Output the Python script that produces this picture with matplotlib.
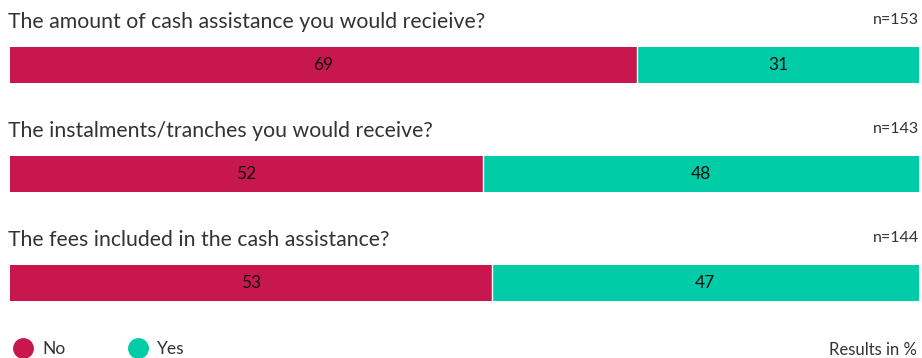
import matplotlib.pyplot as plt
from matplotlib.lines import Line2D

questions = [
    "The amount of cash assistance you would recieive?",
    "The instalments/tranches you would receive?",
    "The fees included in the cash assistance?",
]
n_labels = ["n=153", "n=143", "n=144"]
no_vals = [69, 52, 53]
yes_vals = [31, 48, 47]

NO_COLOR = "#C8174F"
YES_COLOR = "#00CCA8"
TEXT = "#333333"

plt.rcParams["font.family"] = ["Lato", "DejaVu Sans"]

W, H = 922, 358
fig = plt.figure(figsize=(W / 100, H / 100), dpi=100)
# axes spans the whole height; x from px 10 to 919
ax = fig.add_axes([10 / W, 0, 909 / W, 1])
px = 109.0  # pixels per category step
ax.set_xlim(0, 100)
ax.set_ylim((H - 65) / px, -65 / px)
ax.axis("off")

pos = list(range(len(questions)))
ax.barh(pos, no_vals, height=36 / px, color=NO_COLOR, label="No")
ax.barh(pos, yes_vals, left=no_vals, height=36 / px, color=YES_COLOR,
        label="Yes", linewidth=0)

for i, q in enumerate(questions):
    ax.text(-0.2, i - 43 / px, q, fontsize=15.3, color=TEXT, va="center",
            ha="left")
    ax.text(100, i - 45 / px, n_labels[i], fontsize=11.5, color=TEXT,
            va="center", ha="right")
    ax.text(no_vals[i] / 2, i, str(no_vals[i]), fontsize=12.5, color="#111111",
            va="center", ha="center")
    ax.text(no_vals[i] + yes_vals[i] / 2, i, str(yes_vals[i]), fontsize=12.5,
            color="#111111", va="center", ha="center")
    # thin white divider between segments
    ax.plot([no_vals[i], no_vals[i]], [i - 18 / px, i + 18 / px],
            color="white", lw=1)

handles = [
    Line2D([], [], marker="o", ls="", markersize=14, color=NO_COLOR),
    Line2D([], [], marker="o", ls="", markersize=14, color=YES_COLOR),
]
fig.legend(handles, ["No", "Yes"], loc="center left",
           bbox_to_anchor=(-3 / W, 1 - 349 / H), ncol=2, frameon=False,
           fontsize=12.5, handletextpad=0.5, columnspacing=3.6,
           labelcolor=TEXT, handlelength=1.2)
fig.text(917 / W, 1 - 350 / H, "Results in %", fontsize=12, color=TEXT,
         ha="right", va="center")

fig.savefig("out.png", dpi=100)
